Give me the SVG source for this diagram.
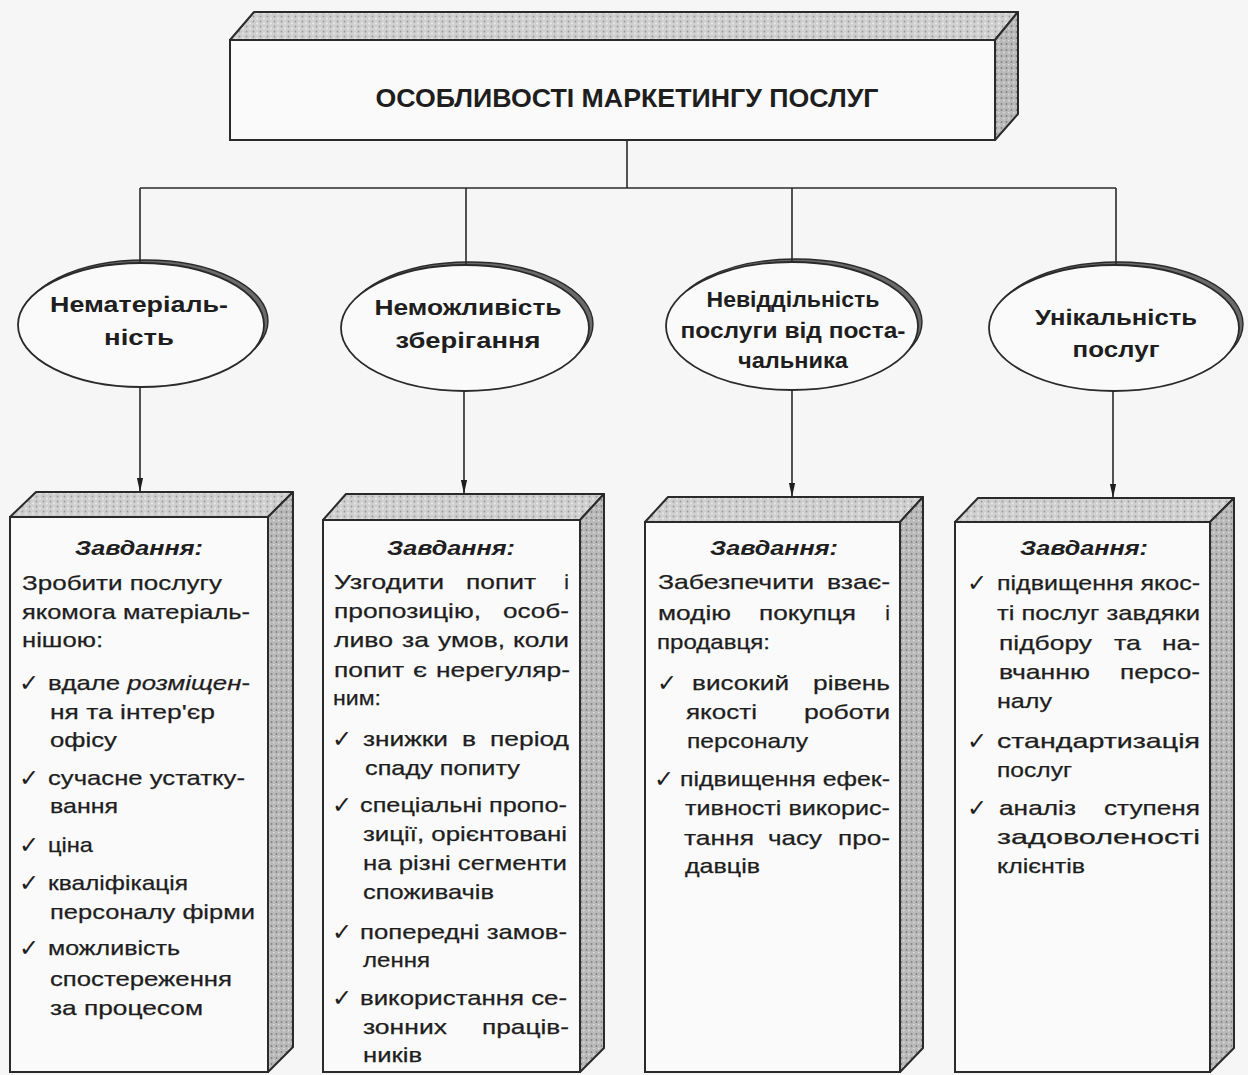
<svg xmlns="http://www.w3.org/2000/svg" width="1248" height="1075" viewBox="0 0 1248 1075">
  <defs>
    <pattern id="stipple" width="7" height="5" patternUnits="userSpaceOnUse">
      <rect width="7" height="5" fill="#cfcfcf"/>
      <circle cx="1.5" cy="1.5" r="0.9" fill="#9a9a9a"/>
      <circle cx="5" cy="3.5" r="0.9" fill="#ededed"/>
    </pattern>
    <pattern id="stippleDark" width="5" height="6" patternUnits="userSpaceOnUse">
      <rect width="5" height="6" fill="#b9b9b9"/>
      <circle cx="1.5" cy="2" r="0.9" fill="#808080"/>
      <circle cx="3.8" cy="4.6" r="0.8" fill="#e2e2e2"/>
    </pattern>
    <marker id="arrow" markerWidth="14" markerHeight="7" refX="16" refY="4" orient="auto" markerUnits="userSpaceOnUse" viewBox="0 0 16 8">
      <path d="M0,0.5 L16,4 L0,7.5 Z" fill="#1e1e1e"/>
    </marker>
    <style>
      .edge { stroke:#2a2a2a; stroke-width:1.6; fill:none; }
      .face { fill:#fafafa; stroke:#2a2a2a; stroke-width:2; }
      .top { fill:url(#stipple); stroke:#2a2a2a; stroke-width:2; stroke-linejoin:round; }
      .side { fill:url(#stippleDark); stroke:#2a2a2a; stroke-width:2; stroke-linejoin:round; }
      .oval { fill:#fafafa; stroke:#2a2a2a; stroke-width:1.8; }
      .rim { fill:#6a6a6a; stroke:#2a2a2a; stroke-width:1.4; }
      text { font-family:"Liberation Sans", Arial, sans-serif; fill:#1e1e1e; }
      .t { font-size:21px; stroke:#1e1e1e; stroke-width:0.25; }
      .r { text-anchor:end; }
      .h { font-size:20px; font-weight:bold; font-style:italic; text-anchor:middle; }
      .e { font-size:22px; font-weight:bold; text-anchor:middle; }
      .ttl { font-size:25px; font-weight:bold; text-anchor:middle; }
      .ck { font-family:"DejaVu Sans", sans-serif; font-size:24px; font-weight:bold; }
      .it { font-style:italic; }
    </style>
  </defs>

  <rect width="1248" height="1075" fill="#f6f6f6"/>

  <!-- title block -->
  <g id="title">
    <polygon class="top" points="230,40 254,12 1018,12 995,40"/>
    <polygon class="side" points="995,40 1018,12 1018,114 995,140"/>
    <rect class="face" x="230" y="40" width="765" height="100"/>
    <text class="ttl" x="627" y="107" textLength="503" lengthAdjust="spacingAndGlyphs">ОСОБЛИВОСТІ МАРКЕТИНГУ ПОСЛУГ</text>
  </g>

  <!-- feature ovals -->
  <g id="oval-intangibility">
    <ellipse class="rim" cx="145" cy="321" rx="123" ry="61"/>
    <ellipse class="oval" cx="141" cy="325" rx="123" ry="62"/>
    <text class="e" x="139" y="312" textLength="178" lengthAdjust="spacingAndGlyphs">Нематеріаль-</text>
    <text class="e" x="139" y="345" textLength="70" lengthAdjust="spacingAndGlyphs">ність</text>
  </g>
  <g id="oval-perishability">
    <ellipse class="rim" cx="469" cy="324" rx="124" ry="62"/>
    <ellipse class="oval" cx="465" cy="328" rx="124" ry="63"/>
    <text class="e" x="468" y="315" textLength="187" lengthAdjust="spacingAndGlyphs">Неможливість</text>
    <text class="e" x="468" y="348" textLength="145" lengthAdjust="spacingAndGlyphs">зберігання</text>
  </g>
  <g id="oval-inseparability">
    <ellipse class="rim" cx="796" cy="322" rx="126" ry="63"/>
    <ellipse class="oval" cx="792" cy="326" rx="126" ry="64"/>
    <text class="e" x="793" y="307" textLength="173" lengthAdjust="spacingAndGlyphs">Невіддільність</text>
    <text class="e" x="793" y="338" textLength="225" lengthAdjust="spacingAndGlyphs">послуги від поста-</text>
    <text class="e" x="793" y="368" textLength="110" lengthAdjust="spacingAndGlyphs">чальника</text>
  </g>
  <g id="oval-uniqueness">
    <ellipse class="rim" cx="1118" cy="324" rx="125" ry="62"/>
    <ellipse class="oval" cx="1114" cy="328" rx="125" ry="63"/>
    <text class="e" x="1116" y="325" textLength="162" lengthAdjust="spacingAndGlyphs">Унікальність</text>
    <text class="e" x="1116" y="357" textLength="87" lengthAdjust="spacingAndGlyphs">послуг</text>
  </g>

  <!-- task blocks -->
  <g id="tasks-intangibility">
    <polygon class="top" points="10,517 36,492 293,492 268,517"/>
    <polygon class="side" points="268,517 293,492 293,1047 268,1072"/>
    <rect class="face" x="10" y="517" width="258" height="555"/>
    <text class="h" x="139" y="555" textLength="128" lengthAdjust="spacingAndGlyphs">Завдання:</text>
    <text class="t" x="22" y="590" textLength="200" lengthAdjust="spacingAndGlyphs">Зробити послугу</text>
    <text class="t" x="22" y="619" textLength="228" lengthAdjust="spacingAndGlyphs">якомога матеріаль-</text>
    <text class="t" x="22" y="647" textLength="81" lengthAdjust="spacingAndGlyphs">нішою:</text>
    <text class="ck" x="19" y="691">✓</text>
    <text class="t" x="48" y="690" textLength="202" lengthAdjust="spacingAndGlyphs">вдале <tspan class="it">розміщен</tspan>-</text>
    <text class="t" x="50" y="719" textLength="165" lengthAdjust="spacingAndGlyphs">ня та інтер'єр</text>
    <text class="t" x="50" y="747" textLength="67" lengthAdjust="spacingAndGlyphs">офісу</text>
    <text class="ck" x="19" y="786">✓</text>
    <text class="t" x="48" y="785" textLength="197" lengthAdjust="spacingAndGlyphs">сучасне устатку-</text>
    <text class="t" x="50" y="813" textLength="68" lengthAdjust="spacingAndGlyphs">вання</text>
    <text class="ck" x="19" y="853">✓</text>
    <text class="t" x="48" y="852" textLength="45" lengthAdjust="spacingAndGlyphs">ціна</text>
    <text class="ck" x="19" y="891">✓</text>
    <text class="t" x="48" y="890" textLength="140" lengthAdjust="spacingAndGlyphs">кваліфікація</text>
    <text class="t" x="50" y="919" textLength="205" lengthAdjust="spacingAndGlyphs">персоналу фірми</text>
    <text class="ck" x="19" y="956">✓</text>
    <text class="t" x="48" y="955" textLength="132" lengthAdjust="spacingAndGlyphs">можливість</text>
    <text class="t" x="50" y="986" textLength="182" lengthAdjust="spacingAndGlyphs">спостереження</text>
    <text class="t" x="50" y="1015" textLength="153" lengthAdjust="spacingAndGlyphs">за процесом</text>
  </g>

  <g id="tasks-perishability">
    <polygon class="top" points="323,520 346,494 604,494 580,520"/>
    <polygon class="side" points="580,520 604,494 604,1048 580,1072"/>
    <rect class="face" x="323" y="520" width="257" height="552"/>
    <text class="h" x="451" y="555" textLength="128" lengthAdjust="spacingAndGlyphs">Завдання:</text>
    <!-- justified lines are set word by word -->
    <text class="t" x="334" y="589" textLength="110" lengthAdjust="spacingAndGlyphs">Узгодити</text>
    <text class="t" x="466" y="589" textLength="70" lengthAdjust="spacingAndGlyphs">попит</text>
    <text class="t r" x="569" y="589">і</text>
    <text class="t" x="334" y="618" textLength="147" lengthAdjust="spacingAndGlyphs">пропозицію,</text>
    <text class="t" x="503" y="618" textLength="66" lengthAdjust="spacingAndGlyphs">особ-</text>
    <text class="t" x="334" y="647" textLength="59" lengthAdjust="spacingAndGlyphs">ливо</text>
    <text class="t" x="402" y="647" textLength="27" lengthAdjust="spacingAndGlyphs">за</text>
    <text class="t" x="438" y="647" textLength="67" lengthAdjust="spacingAndGlyphs">умов,</text>
    <text class="t" x="513" y="647" textLength="56" lengthAdjust="spacingAndGlyphs">коли</text>
    <text class="t" x="334" y="677" textLength="70" lengthAdjust="spacingAndGlyphs">попит</text>
    <text class="t" x="413" y="677" textLength="14" lengthAdjust="spacingAndGlyphs">є</text>
    <text class="t" x="436" y="677" textLength="134" lengthAdjust="spacingAndGlyphs">нерегуляр-</text>
    <text class="t" x="333" y="705" textLength="48" lengthAdjust="spacingAndGlyphs">ним:</text>
    <text class="ck" x="332" y="747">✓</text>
    <text class="t" x="363" y="746" textLength="85" lengthAdjust="spacingAndGlyphs">знижки</text>
    <text class="t" x="462" y="746" textLength="14" lengthAdjust="spacingAndGlyphs">в</text>
    <text class="t" x="490" y="746" textLength="79" lengthAdjust="spacingAndGlyphs">період</text>
    <text class="t" x="365" y="775" textLength="155" lengthAdjust="spacingAndGlyphs">спаду попиту</text>
    <text class="ck" x="332" y="813">✓</text>
    <text class="t" x="360" y="812" textLength="207" lengthAdjust="spacingAndGlyphs">спеціальні пропо-</text>
    <text class="t" x="363" y="841" textLength="204" lengthAdjust="spacingAndGlyphs">зиції, орієнтовані</text>
    <text class="t" x="363" y="870" textLength="204" lengthAdjust="spacingAndGlyphs">на різні сегменти</text>
    <text class="t" x="363" y="899" textLength="131" lengthAdjust="spacingAndGlyphs">споживачів</text>
    <text class="ck" x="332" y="940">✓</text>
    <text class="t" x="360" y="939" textLength="207" lengthAdjust="spacingAndGlyphs">попередні замов-</text>
    <text class="t" x="363" y="967" textLength="67" lengthAdjust="spacingAndGlyphs">лення</text>
    <text class="ck" x="332" y="1006">✓</text>
    <text class="t" x="360" y="1005" textLength="207" lengthAdjust="spacingAndGlyphs">використання се-</text>
    <text class="t" x="363" y="1034" textLength="84" lengthAdjust="spacingAndGlyphs">зонних</text>
    <text class="t" x="482" y="1034" textLength="87" lengthAdjust="spacingAndGlyphs">праців-</text>
    <text class="t" x="363" y="1062" textLength="59" lengthAdjust="spacingAndGlyphs">ників</text>
  </g>

  <g id="tasks-inseparability">
    <polygon class="top" points="645,522 668,497 923,497 900,522"/>
    <polygon class="side" points="900,522 923,497 923,1048 900,1072"/>
    <rect class="face" x="645" y="522" width="255" height="550"/>
    <text class="h" x="774" y="555" textLength="128" lengthAdjust="spacingAndGlyphs">Завдання:</text>
    <text class="t" x="658" y="589" textLength="156" lengthAdjust="spacingAndGlyphs">Забезпечити</text>
    <text class="t" x="827" y="589" textLength="63" lengthAdjust="spacingAndGlyphs">взає-</text>
    <text class="t" x="658" y="620" textLength="73" lengthAdjust="spacingAndGlyphs">модію</text>
    <text class="t" x="759" y="620" textLength="97" lengthAdjust="spacingAndGlyphs">покупця</text>
    <text class="t r" x="890" y="620">і</text>
    <text class="t" x="657" y="649" textLength="113" lengthAdjust="spacingAndGlyphs">продавця:</text>
    <text class="ck" x="657" y="691">✓</text>
    <text class="t" x="692" y="690" textLength="97" lengthAdjust="spacingAndGlyphs">високий</text>
    <text class="t" x="813" y="690" textLength="77" lengthAdjust="spacingAndGlyphs">рівень</text>
    <text class="t" x="686" y="719" textLength="71" lengthAdjust="spacingAndGlyphs">якості</text>
    <text class="t" x="804" y="719" textLength="86" lengthAdjust="spacingAndGlyphs">роботи</text>
    <text class="t" x="687" y="748" textLength="121" lengthAdjust="spacingAndGlyphs">персоналу</text>
    <text class="ck" x="654" y="787">✓</text>
    <text class="t" x="680" y="786" textLength="210" lengthAdjust="spacingAndGlyphs">підвищення ефек-</text>
    <text class="t" x="685" y="815" textLength="205" lengthAdjust="spacingAndGlyphs">тивності викорис-</text>
    <text class="t" x="684" y="845" textLength="70" lengthAdjust="spacingAndGlyphs">тання</text>
    <text class="t" x="768" y="845" textLength="54" lengthAdjust="spacingAndGlyphs">часу</text>
    <text class="t" x="838" y="845" textLength="52" lengthAdjust="spacingAndGlyphs">про-</text>
    <text class="t" x="685" y="873" textLength="75" lengthAdjust="spacingAndGlyphs">давців</text>
  </g>

  <g id="tasks-uniqueness">
    <polygon class="top" points="955,522 978,498 1234,498 1210,522"/>
    <polygon class="side" points="1210,522 1234,498 1234,1048 1210,1072"/>
    <rect class="face" x="955" y="522" width="255" height="550"/>
    <text class="h" x="1084" y="555" textLength="128" lengthAdjust="spacingAndGlyphs">Завдання:</text>
    <text class="ck" x="967" y="591">✓</text>
    <text class="t" x="997" y="590" textLength="203" lengthAdjust="spacingAndGlyphs">підвищення якос-</text>
    <text class="t" x="997" y="620" textLength="203" lengthAdjust="spacingAndGlyphs">ті послуг завдяки</text>
    <text class="t" x="999" y="650" textLength="93" lengthAdjust="spacingAndGlyphs">підбору</text>
    <text class="t" x="1114" y="650" textLength="27" lengthAdjust="spacingAndGlyphs">та</text>
    <text class="t" x="1162" y="650" textLength="38" lengthAdjust="spacingAndGlyphs">на-</text>
    <text class="t" x="999" y="679" textLength="91" lengthAdjust="spacingAndGlyphs">вчанню</text>
    <text class="t" x="1120" y="679" textLength="80" lengthAdjust="spacingAndGlyphs">персо-</text>
    <text class="t" x="997" y="708" textLength="55" lengthAdjust="spacingAndGlyphs">налу</text>
    <text class="ck" x="967" y="749">✓</text>
    <text class="t" x="997" y="748" textLength="203" lengthAdjust="spacingAndGlyphs">стандартизація</text>
    <text class="t" x="997" y="777" textLength="75" lengthAdjust="spacingAndGlyphs">послуг</text>
    <text class="ck" x="967" y="816">✓</text>
    <text class="t" x="999" y="815" textLength="77" lengthAdjust="spacingAndGlyphs">аналіз</text>
    <text class="t" x="1104" y="815" textLength="96" lengthAdjust="spacingAndGlyphs">ступеня</text>
    <text class="t" x="997" y="844" textLength="203" lengthAdjust="spacingAndGlyphs">задоволеності</text>
    <text class="t" x="997" y="873" textLength="88" lengthAdjust="spacingAndGlyphs">клієнтів</text>
  </g>

  <!-- connectors -->
  <g id="connectors">
    <line class="edge" x1="627" y1="140" x2="627" y2="188"/>
    <line class="edge" x1="140" y1="188" x2="1116" y2="188"/>
    <line class="edge" x1="140" y1="188" x2="140" y2="263"/>
    <line class="edge" x1="466" y1="188" x2="466" y2="266"/>
    <line class="edge" x1="792" y1="188" x2="792" y2="261"/>
    <line class="edge" x1="1116" y1="188" x2="1116" y2="265"/>
    <line class="edge" x1="140" y1="387" x2="140" y2="492" marker-end="url(#arrow)"/>
    <line class="edge" x1="464" y1="391" x2="464" y2="494" marker-end="url(#arrow)"/>
    <line class="edge" x1="792" y1="390" x2="792" y2="497" marker-end="url(#arrow)"/>
    <line class="edge" x1="1113" y1="391" x2="1113" y2="498" marker-end="url(#arrow)"/>
  </g>
</svg>
